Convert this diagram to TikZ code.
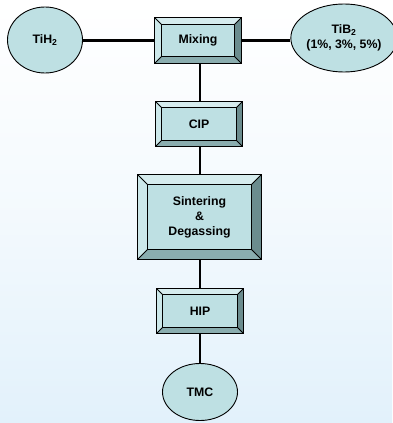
\documentclass[tikz,border=0pt]{standalone}
\usepackage{fontspec}
\setmainfont{Liberation Sans}
\usetikzlibrary{shapes.geometric,calc}
\definecolor{bgtop}{RGB}{255,255,255}
\definecolor{bgbot}{RGB}{226,241,251}
\definecolor{face}{RGB}{190,224,227}
\definecolor{bevT}{RGB}{214,236,238}
\definecolor{bevL}{RGB}{204,232,234}
\definecolor{bevB}{RGB}{138,173,175}
\definecolor{bevR}{RGB}{107,140,142}
\tikzset{
  lbl/.style={font=\fontsize{12.3}{15}\selectfont\bfseries, align=center},
  boxnode/.style={lbl, rectangle, inner sep=0pt, fill=face},
  ellnode/.style={lbl, ellipse, draw=black, line width=0.9pt, fill=face, inner sep=0pt},
  link/.style={line width=2.7pt, black},
  edge/.style={line width=0.9pt, black}
}
% #1 name, #2 x, #3 y, #4 w, #5 h, #6 bevel, #7 text
\newcommand\bevbox[7]{%
  \node[boxnode, minimum width=#4pt, minimum height=#5pt] (#1) at (#2,#3) {#7};
  \coordinate (#1-a) at ($(#1.north west)+(#6,#6)$);
  \coordinate (#1-b) at ($(#1.north east)+(-#6,#6)$);
  \coordinate (#1-c) at ($(#1.south east)+(-#6,-#6)$);
  \coordinate (#1-d) at ($(#1.south west)+(#6,-#6)$);
  \fill[bevT] (#1.north west) -- (#1.north east) -- (#1-b) -- (#1-a) -- cycle;
  \fill[bevL] (#1.north west) -- (#1-a) -- (#1-d) -- (#1.south west) -- cycle;
  \fill[bevB] (#1.south west) -- (#1-d) -- (#1-c) -- (#1.south east) -- cycle;
  \fill[bevR] (#1.north east) -- (#1.south east) -- (#1-c) -- (#1-b) -- cycle;
  \draw[edge] (#1.north west) rectangle (#1.south east);
  \draw[edge] (#1-a) rectangle (#1-c);
  \draw[edge] (#1.north west) -- (#1-a) (#1.north east) -- (#1-b)
              (#1.south east) -- (#1-c) (#1.south west) -- (#1-d);
}
\begin{document}
\begin{tikzpicture}[x=1pt, y=-1pt]
  \shade[top color=bgtop, bottom color=bgbot, middle color=bgbot!40!bgtop] (0,0) rectangle (392,423);
  \useasboundingbox (0,0) rectangle (392,423);
  \coordinate (lx) at (200,0);
  \node[ellnode, minimum width=75pt, minimum height=66pt] (tih) at (45,40) {TiH\textsubscript{2}};
  \node[ellnode, minimum width=93pt, minimum height=68pt] (tib) at (344,38) {TiB\textsubscript{2}\\(1\%, 3\%, 5\%)};
  \node[ellnode, minimum width=75pt, minimum height=57pt] (tmc) at (200,392) {TMC};
  \bevbox{mix}{198}{40.5}{86}{45}{6.5}{Mixing}
  \bevbox{cip}{199}{124}{86}{44}{6}{CIP}
  \bevbox{sin}{199.5}{217}{123}{84}{10}{Sintering\\\&\\Degassing}
  \bevbox{hip}{200}{311}{86}{44}{6}{HIP}
  \draw[link] (tih.east |- mix.west) -- (mix.west);
  \draw[link] (mix.east) -- (tib.west |- mix.east);
  \draw[link] (mix.south -| lx) -- (cip.north -| lx);
  \draw[link] (cip.south -| lx) -- (sin.north -| lx);
  \draw[link] (sin.south -| lx) -- (hip.north -| lx);
  \draw[link] (hip.south -| lx) -- (tmc.north);
\end{tikzpicture}
\end{document}
